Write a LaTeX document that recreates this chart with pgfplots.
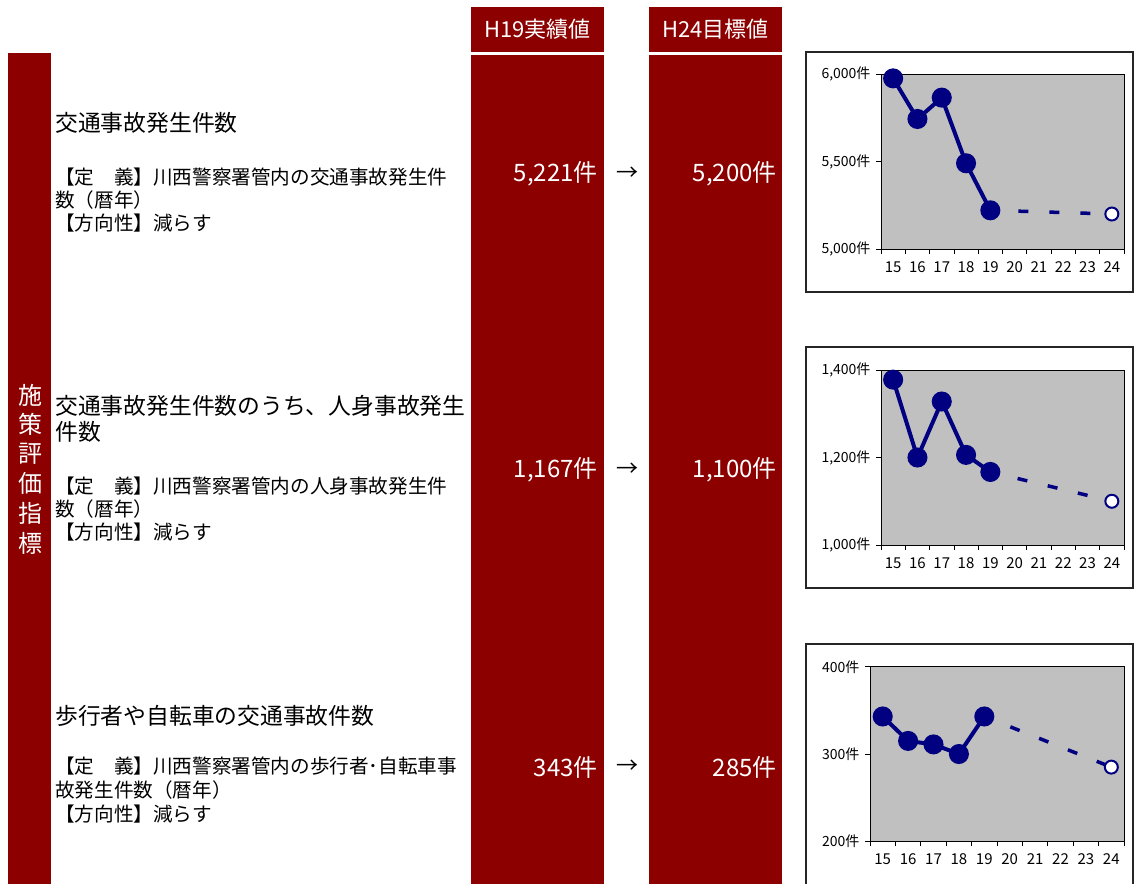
\documentclass[border=0pt]{standalone}
\usepackage{pgfplots}
\pgfplotsset{compat=1.18}
\usepackage{fontspec}
\setmainfont{Noto Sans CJK JP}
\definecolor{darkred}{RGB}{140,0,0}
\definecolor{navy}{RGB}{0,0,128}
\definecolor{chartgray}{RGB}{192,192,192}

\pgfplotsset{mini/.style={
  scale only axis,
  xmin=14.5, xmax=24.5,
  xtick={14.5,15.5,16.5,17.5,18.5,19.5,20.5,21.5,22.5,23.5,24.5},
  x tick label as interval,
  xticklabels={15,16,17,18,19,20,21,22,23,24},
  tick align=outside,
  xtick pos=bottom, ytick pos=left,
  major tick length=5pt,
  tick style={black, line width=0.8pt},
  axis line style={black, line width=1pt},
  axis background/.style={fill=chartgray},
  yticklabel style={font=\fontsize{14}{14}\selectfont, xshift=-2pt},
  xticklabel style={font=\fontsize{15}{15}\selectfont, yshift=-4pt},
  clip=false,
}}

\begin{document}
\begin{tikzpicture}
\begin{scope}[x=1pt,y=-1pt]
\path[use as bounding box] (0,0) rectangle (1135,884);
% red columns
\fill[darkred] (8,53) rectangle (51,884);
\fill[darkred] (471,7) rectangle (604,52);
\fill[darkred] (471,55) rectangle (604,884);
\fill[darkred] (649,7) rectangle (782,52);
\fill[darkred] (649,55) rectangle (782,884);
\foreach \c [count=\i from 0] in {施,策,評,価,指,標}
  \node[white, font=\fontsize{24}{24}\selectfont, inner sep=0] at (30,{395+29.6*\i}) {\c};
\node[white, font=\fontsize{22}{22}\selectfont, inner sep=0] at (537.5,29) {H19実績値};
\node[white, font=\fontsize{22}{22}\selectfont, inner sep=0] at (715.5,29) {H24目標値};
% values
\tikzset{val/.style={white, anchor=east, inner sep=0, font=\fontsize{24}{24}\selectfont}}
\node[val] at (598,174) {5,221件};
\node[val] at (777,174) {5,200件};
\node[val] at (598,470) {1,167件};
\node[val] at (777,470) {1,100件};
\node[val] at (598,767) {343件};
\node[val] at (777,767) {285件};
\foreach \yy in {174,470,767}
  \node[inner sep=0, font=\fontsize{22}{22}\selectfont] at (627,\yy) {→};
% left texts
\tikzset{ttl/.style={anchor=west, inner sep=0, font=\fontsize{22.8}{22.8}\selectfont},
         dfn/.style={anchor=west, inner sep=0, font=\fontsize{19.6}{19.6}\selectfont}}
\node[ttl] at (55,123) {交通事故発生件数};
\node[dfn] at (55,177) {【定　義】川西警察署管内の交通事故発生件};
\node[dfn] at (55,200) {数（暦年）};
\node[dfn] at (55,223) {【方向性】減らす};
\node[ttl] at (55,406) {交通事故発生件数のうち、人身事故発生};
\node[ttl] at (55,432) {件数};
\node[dfn] at (55,486) {【定　義】川西警察署管内の人身事故発生件};
\node[dfn] at (55,509) {数（暦年）};
\node[dfn] at (55,532) {【方向性】減らす};
\node[ttl] at (55,716) {歩行者や自転車の交通事故件数};
\node[dfn] at (55,766) {【定　義】川西警察署管内の歩行者･自転車事};
\node[dfn] at (55,790) {故発生件数（暦年）};
\node[dfn] at (55,814) {【方向性】減らす};
% chart frames
\draw[line width=1.2pt, black!85] (806,52) rectangle (1133,292);
\draw[line width=1.2pt, black!85] (806,347) rectangle (1133,588);
\draw[line width=1.2pt, black!85] (806,884) -- (806,644) -- (1133,644) -- (1133,884);
\end{scope}

% chart 1
\begin{axis}[mini, at={(881pt,-249pt)}, anchor=south west, width=243pt, height=175pt,
  ymin=5000, ymax=6000, ytick={5000,5500,6000},
  yticklabels={{5,000件},{5,500件},{6,000件}}]
\addplot[navy, line width=3.5pt, dash pattern=on 10pt off 21pt, dash phase=3pt] coordinates {(19,5221) (24,5200)};
\addplot[navy, line width=4pt, mark=*, mark size=8pt, mark options={solid, fill=navy}] coordinates {(15,5975) (16,5743) (17,5865) (18,5490) (19,5221)};
\addplot[only marks, mark=*, mark size=6.5pt, mark options={fill=white, draw=navy, line width=2pt}] coordinates {(24,5200)};
\end{axis}

% chart 2
\begin{axis}[mini, at={(881pt,-545pt)}, anchor=south west, width=243pt, height=175pt,
  ymin=1000, ymax=1400, ytick={1000,1200,1400},
  yticklabels={{1,000件},{1,200件},{1,400件}}]
\addplot[navy, line width=3.5pt, dash pattern=on 10pt off 21pt, dash phase=3pt] coordinates {(19,1167) (24,1100)};
\addplot[navy, line width=4pt, mark=*, mark size=8pt, mark options={solid, fill=navy}] coordinates {(15,1378) (16,1200) (17,1328) (18,1206) (19,1167)};
\addplot[only marks, mark=*, mark size=6.5pt, mark options={fill=white, draw=navy, line width=2pt}] coordinates {(24,1100)};
\end{axis}

% chart 3
\begin{axis}[mini, at={(870pt,-841.3pt)}, anchor=south west, width=254pt, height=174.6pt,
  ymin=200, ymax=400, ytick={200,300,400},
  yticklabels={{200件},{300件},{400件}}]
\addplot[navy, line width=3.5pt, dash pattern=on 10pt off 21pt, dash phase=3pt] coordinates {(19,343) (24,285)};
\addplot[navy, line width=4pt, mark=*, mark size=8pt, mark options={solid, fill=navy}] coordinates {(15,343) (16,315) (17,311) (18,300) (19,343)};
\addplot[only marks, mark=*, mark size=6.5pt, mark options={fill=white, draw=navy, line width=2pt}] coordinates {(24,285)};
\end{axis}
\end{tikzpicture}
\end{document}
